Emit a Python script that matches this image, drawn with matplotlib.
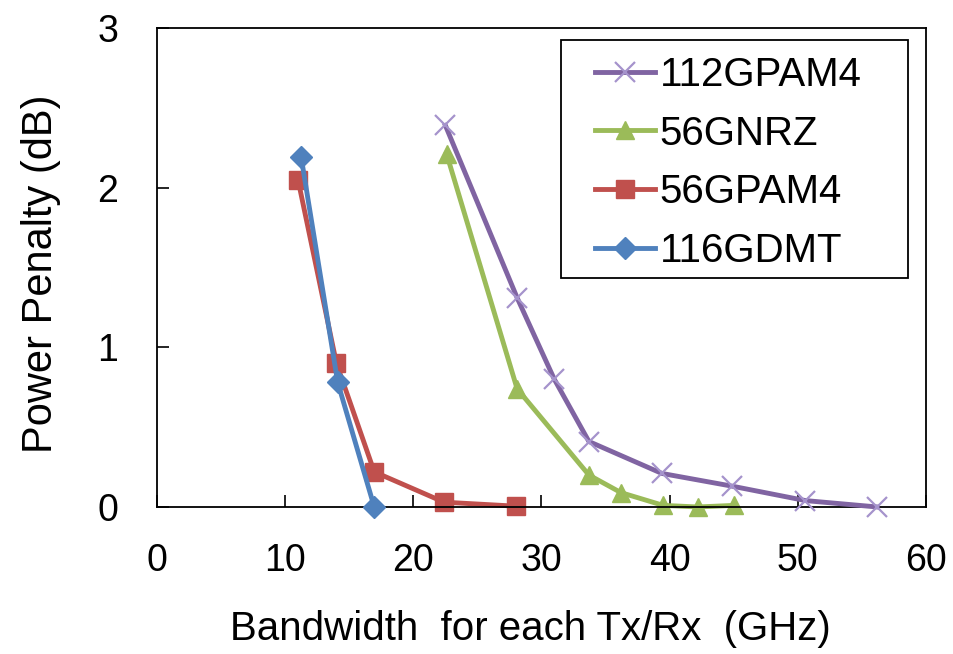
import matplotlib
matplotlib.use("Agg")
import matplotlib.pyplot as plt
from matplotlib.patches import Rectangle

plt.rcParams['font.family'] = ['Liberation Sans', 'DejaVu Sans']

# Data
x_112gpam4 = [22.5, 28.1, 31.0, 33.7, 39.4, 44.9, 50.6, 56.2]
y_112gpam4 = [2.39, 1.31, 0.80, 0.41, 0.21, 0.13, 0.04, 0.00]

x_56gnrz = [22.6, 28.1, 33.7, 36.2, 39.5, 42.2, 45.0]
y_56gnrz = [2.21, 0.74, 0.20, 0.09, 0.01, 0.00, 0.01]

x_56gpam4 = [11.0, 14.0, 16.95, 22.4, 28.0]
y_56gpam4 = [2.05, 0.90, 0.22, 0.03, 0.005]

x_116gdmt = [11.25, 14.1, 16.95]
y_116gdmt = [2.19, 0.78, 0.00]

xticks = [0, 10, 20, 30, 40, 50, 60]
yticks = [0, 1, 2, 3]

fig = plt.figure(figsize=(9.54, 6.54), dpi=100)
ax = fig.add_axes([0.1646, 0.2248, 0.9706 - 0.1646, 0.9572 - 0.2248])

ax.plot(x_112gpam4, y_112gpam4, color='#8064A2', lw=3.5, marker='x',
        markersize=15, markeredgewidth=1.6, markeredgecolor='#A593CC',
        label='112GPAM4', zorder=3, clip_on=False)
ax.plot(x_56gnrz, y_56gnrz, color='#9BBB59', lw=3.5, marker='^',
        markersize=13, markeredgecolor='#9BBB59', label='56GNRZ', zorder=2,
        clip_on=False)
ax.plot(x_56gpam4, y_56gpam4, color='#C0504D', lw=3.5, marker='s',
        markersize=13, markeredgecolor='#C0504D', label='56GPAM4', zorder=2,
        clip_on=False)
ax.plot(x_116gdmt, y_116gdmt, color='#4F81BD', lw=3.5, marker='D',
        markersize=11, markeredgecolor='#4F81BD', label='116GDMT', zorder=3,
        clip_on=False)

ax.set_xlim(0, 60)
ax.set_ylim(0, 3)
ax.set_xticks(xticks)
ax.set_yticks(yticks)
ax.tick_params(direction='in', length=8.5, width=1.2, labelsize=27)
ax.tick_params(axis='x', pad=26)
ax.tick_params(axis='y', pad=28)
for s in ax.spines.values():
    s.set_linewidth(1.3)
    s.set_color('black')

ax.set_xlabel('Bandwidth  for each Tx/Rx  (GHz)', fontsize=29)
ax.set_ylabel('Power Penalty (dB)', fontsize=30)
ax.xaxis.set_label_coords(0.486, -0.215)
ax.yaxis.set_label_coords(-0.125, 0.486)

# legend frame (drawn separately to match the wide padding of the original)
frame = Rectangle((0.5254, 0.478), 0.9766 - 0.5254, 0.975 - 0.478,
                  transform=ax.transAxes, facecolor='white', edgecolor='black',
                  linewidth=1.3, zorder=4)
ax.add_patch(frame)

leg = ax.legend(loc='upper left', bbox_to_anchor=(0.5696, 0.942), fontsize=29,
                frameon=False, handlelength=1.49, handletextpad=0.12,
                labelspacing=0.515, borderpad=0, borderaxespad=0)
leg.set_zorder(5)

fig.savefig('out.png', dpi=100)
